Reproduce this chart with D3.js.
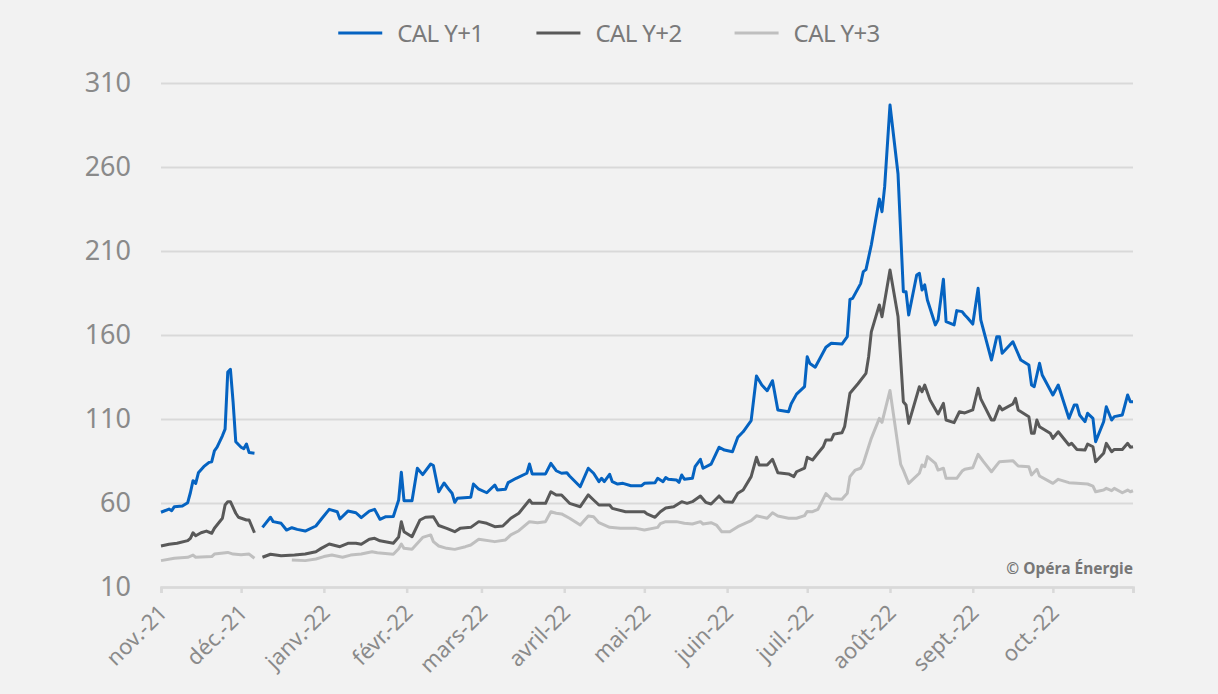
<!DOCTYPE html>
<html>
<head>
<meta charset="utf-8">
<script src="https://cdn.jsdelivr.net/npm/d3@7"></script>
<style>
  body { margin: 0; background: #f2f2f2; }
  svg { display: block; font-family: "Noto Sans", sans-serif; }
</style>
</head>
<body>
<svg id="chart" width="1218" height="694"></svg>
<script>
// series names and colours (legend order)
const seriesNames = ["CAL Y+1", "CAL Y+2", "CAL Y+3"];
const seriesColors = ["#0563c1", "#595959", "#bfbfbf"];

// month tick labels
const monthLabels = ["nov.-21", "déc.-21", "janv.-22", "févr.-22", "mars-22", "avril-22",
  "mai-22", "juin-22", "juil.-22", "août-22", "sept.-22", "oct.-22"];
const yTicks = [10, 60, 110, 160, 210, 260, 310];

// CAL Y+1 (€/MWh), null = gap
const cal1 = [
  ["2021-11-01",54.5],["2021-11-04",56.4],["2021-11-05",55.4],["2021-11-06",57.8],["2021-11-09",58.2],
  ["2021-11-11",60.2],["2021-11-12",66.1],["2021-11-13",73.3],["2021-11-14",71.7],["2021-11-15",78],
  ["2021-11-17",81.6],["2021-11-19",84.2],["2021-11-20",84.6],["2021-11-21",91],["2021-11-22",93.2],
  ["2021-11-24",100],["2021-11-25",104],["2021-11-26",138],["2021-11-27",139.6],["2021-11-28",120],
  ["2021-11-29",96.5],["2021-12-01",93.2],["2021-12-02",92.3],["2021-12-03",95.1],["2021-12-04",90],
  ["2021-12-06",89.6],["2021-12-07",null],
  ["2021-12-09",45.5],["2021-12-12",51.5],["2021-12-13",48.9],["2021-12-16",47.9],["2021-12-18",43.9],
  ["2021-12-20",45.3],["2021-12-22",44.3],["2021-12-25",43.3],["2021-12-29",46.3],["2021-12-31",50.3],
  ["2022-01-03",56.2],["2022-01-06",54.8],["2022-01-07",50.5],["2022-01-10",55.2],["2022-01-13",54.2],
  ["2022-01-15",51.3],["2022-01-18",55.2],["2022-01-20",56.2],["2022-01-22",50.3],["2022-01-24",51.8],
  ["2022-01-27",52],["2022-01-29",61.8],["2022-01-30",78.3],["2022-01-31",61.4],["2022-02-03",61.4],
  ["2022-02-05",80.7],["2022-02-07",76.9],["2022-02-10",83.2],["2022-02-11",82.3],["2022-02-13",66.7],
  ["2022-02-15",71.9],["2022-02-17",67.7],["2022-02-18",65.8],["2022-02-19",60.4],["2022-02-20",62.8],
  ["2022-02-25",63.4],["2022-02-26",71.3],["2022-02-28",68.2],["2022-03-03",66.1],["2022-03-06",70.7],
  ["2022-03-07",67.7],["2022-03-10",68.2],["2022-03-11",72.1],["2022-03-14",74.7],["2022-03-18",77.7],
  ["2022-03-19",83.2],["2022-03-20",77.3],["2022-03-25",77.3],["2022-03-27",83.6],["2022-03-29",79.2],
  ["2022-03-31",77.7],["2022-04-02",78],["2022-04-03",76.1],["2022-04-07",69.7],["2022-04-10",80.7],
  ["2022-04-12",77.7],["2022-04-14",72.7],["2022-04-15",74.7],["2022-04-16",72.7],["2022-04-18",77.1],
  ["2022-04-19",72.7],["2022-04-21",71.3],["2022-04-23",71.7],["2022-04-26",70.3],["2022-04-30",70.3],
  ["2022-05-01",71.7],["2022-05-05",72.1],["2022-05-06",74.7],["2022-05-08",72.7],["2022-05-09",75.1],
  ["2022-05-10",74.1],["2022-05-13",73.7],["2022-05-14",72.3],["2022-05-15",76.7],["2022-05-16",74.1],
  ["2022-05-19",74.7],["2022-05-20",81.6],["2022-05-22",86],["2022-05-23",80.7],["2022-05-26",83.1],
  ["2022-05-29",93.2],["2022-05-31",91.5],["2022-06-03",90.5],["2022-06-05",99.1],["2022-06-07",102.4],
  ["2022-06-10",109],["2022-06-12",135.6],["2022-06-14",130.2],["2022-06-16",126.8],["2022-06-18",132.8],
  ["2022-06-20",115.4],["2022-06-24",114.3],["2022-06-25",119.1],["2022-06-27",124.8],["2022-06-30",129.3],
  ["2022-07-01",147.1],["2022-07-02",143],["2022-07-04",140.8],["2022-07-08",152.7],["2022-07-10",155.1],
  ["2022-07-14",154.6],["2022-07-16",159],["2022-07-17",181.2],["2022-07-18",181.8],["2022-07-21",190.6],
  ["2022-07-22",197.7],["2022-07-23",198.9],["2022-07-25",213.6],["2022-07-28",241],["2022-07-29",233.4],
  ["2022-07-30",248.3],["2022-08-01",296.9],["2022-08-04",256],["2022-08-06",185.8],["2022-08-07",185.8],
  ["2022-08-08",171.9],["2022-08-11",195.7],["2022-08-12",196.7],["2022-08-13",186.8],["2022-08-14",189.8],
  ["2022-08-15",180.8],["2022-08-18",166],["2022-08-19",169],["2022-08-21",193.2],["2022-08-22",167.9],
  ["2022-08-25",166],["2022-08-26",174.5],["2022-08-28",173.9],["2022-08-29",171.9],["2022-08-30",170.3],
  ["2022-09-01",166.5],["2022-09-03",187.8],["2022-09-04",169],["2022-09-08",145.1],["2022-09-10",159],
  ["2022-09-11",159],["2022-09-12",149.1],["2022-09-16",156],["2022-09-19",145.1],["2022-09-22",142.1],
  ["2022-09-23",130.2],["2022-09-24",129.2],["2022-09-26",143.2],["2022-09-27",136.2],["2022-10-01",124.3],
  ["2022-10-03",130.2],["2022-10-07",110.4],["2022-10-09",118.3],["2022-10-10",118.3],["2022-10-11",112.4],
  ["2022-10-13",108.4],["2022-10-14",113.4],["2022-10-16",110.4],["2022-10-17",96.5],["2022-10-20",108.4],
  ["2022-10-21",117.3],["2022-10-23",109.4],["2022-10-24",111.4],["2022-10-27",112.4],["2022-10-29",124.3],
  ["2022-10-30",120.3],["2022-10-31",120.3]
];

// CAL Y+2
const cal2 = [
  ["2021-11-01",34.4],["2021-11-04",35.4],["2021-11-07",36],["2021-11-11",37.6],["2021-11-12",39],
  ["2021-11-13",42.3],["2021-11-14",40.5],["2021-11-16",42.3],["2021-11-18",43.3],["2021-11-20",42],
  ["2021-11-21",45],["2021-11-24",50.9],["2021-11-25",58.8],["2021-11-26",60.8],["2021-11-27",60.8],
  ["2021-11-29",53.9],["2021-11-30",51.5],["2021-12-03",49.9],["2021-12-04",49.9],["2021-12-06",42.3],
  ["2021-12-07",null],
  ["2021-12-09",27.7],["2021-12-12",29.5],["2021-12-16",28.6],["2021-12-21",29],["2021-12-25",29.6],
  ["2021-12-29",31],["2021-12-31",33],["2022-01-03",35.6],["2022-01-07",34],["2022-01-10",36],
  ["2022-01-13",36],["2022-01-15",35.4],["2022-01-18",38.4],["2022-01-20",39],["2022-01-22",37.5],
  ["2022-01-27",36],["2022-01-29",39.8],["2022-01-30",48.9],["2022-01-31",42.9],["2022-02-03",39.9],
  ["2022-02-06",49.9],["2022-02-08",51.5],["2022-02-11",51.8],["2022-02-13",46.6],["2022-02-16",44.9],
  ["2022-02-19",42.9],["2022-02-21",44.9],["2022-02-25",45.5],["2022-02-28",48.9],["2022-03-03",47.9],
  ["2022-03-06",45.9],["2022-03-09",46.3],["2022-03-12",50.9],["2022-03-15",53.9],["2022-03-19",61.8],
  ["2022-03-20",59.8],["2022-03-25",59.8],["2022-03-27",66.7],["2022-03-29",64.8],["2022-03-31",64.8],
  ["2022-04-03",59.8],["2022-04-07",57.8],["2022-04-10",64.8],["2022-04-12",61.8],["2022-04-14",58.8],
  ["2022-04-18",58.8],["2022-04-19",56.8],["2022-04-24",54.8],["2022-05-01",54.8],["2022-05-02",53.5],
  ["2022-05-05",51.5],["2022-05-07",54.8],["2022-05-09",57],["2022-05-12",57.8],["2022-05-15",60.8],
  ["2022-05-17",59.8],["2022-05-19",60.8],["2022-05-22",64.2],["2022-05-24",60.4],["2022-05-26",59.4],
  ["2022-05-29",64.2],["2022-05-31",60.8],["2022-06-03",60.4],["2022-06-05",65.8],["2022-06-07",67.7],
  ["2022-06-10",75.7],["2022-06-12",87.2],["2022-06-13",82.6],["2022-06-16",82.6],["2022-06-18",86],
  ["2022-06-20",78],["2022-06-24",77.3],["2022-06-26",75.7],["2022-06-27",78.6],["2022-06-30",80.7],
  ["2022-07-01",87.2],["2022-07-03",85.6],["2022-07-05",89.6],["2022-07-07",93.5],["2022-07-08",97.5],
  ["2022-07-10",97.5],["2022-07-11",101],["2022-07-14",101.8],["2022-07-15",105.4],["2022-07-17",125.3],
  ["2022-07-20",131],["2022-07-23",137.2],["2022-07-24",147.1],["2022-07-25",161.9],["2022-07-28",177.9],
  ["2022-07-29",170.9],["2022-08-01",198.7],["2022-08-04",171],["2022-08-06",120.3],["2022-08-07",118.3],
  ["2022-08-08",107.4],["2022-08-12",129.2],["2022-08-13",126.2],["2022-08-14",130.2],["2022-08-16",121.3],
  ["2022-08-19",113],["2022-08-21",119.3],["2022-08-22",109.4],["2022-08-25",107.8],["2022-08-27",114.3],
  ["2022-08-29",113.6],["2022-09-01",115.4],["2022-09-03",128.3],["2022-09-04",122],["2022-09-08",109.4],
  ["2022-09-09",109.4],["2022-09-11",117.7],["2022-09-12",115.4],["2022-09-16",118.9],["2022-09-17",122.3],
  ["2022-09-18",115.4],["2022-09-22",111.4],["2022-09-23",101.5],["2022-09-24",101.5],["2022-09-25",109.4],
  ["2022-09-26",105.4],["2022-09-30",101.5],["2022-10-01",98.5],["2022-10-03",102.4],["2022-10-07",94.5],
  ["2022-10-08",95.5],["2022-10-10",91.9],["2022-10-13",91.5],["2022-10-14",95.1],["2022-10-16",93.5],
  ["2022-10-17",84.6],["2022-10-20",89.6],["2022-10-21",95.5],["2022-10-23",90.5],["2022-10-24",91.9],
  ["2022-10-27",91.9],["2022-10-29",95.5],["2022-10-30",93.2],["2022-10-31",93.5]
];

// CAL Y+3
const cal3 = [
  ["2021-11-01",25.7],["2021-11-06",27.1],["2021-11-11",27.7],["2021-11-13",29],["2021-11-14",27.7],
  ["2021-11-20",28.1],["2021-11-21",29.6],["2021-11-26",30.6],["2021-11-28",29.6],["2021-12-01",29.2],
  ["2021-12-04",29.6],["2021-12-06",27.1],["2021-12-07",null],
  ["2021-12-20",26.1],["2021-12-25",25.7],["2021-12-29",26.7],["2022-01-01",28.1],["2022-01-04",29],
  ["2022-01-08",27.7],["2022-01-11",29],["2022-01-15",29.6],["2022-01-19",31],["2022-01-21",30.4],
  ["2022-01-27",29.5],["2022-01-29",32.8],["2022-01-30",35.6],["2022-01-31",33],["2022-02-03",32.5],
  ["2022-02-07",39.5],["2022-02-10",41],["2022-02-11",37],["2022-02-13",34.4],["2022-02-16",33],
  ["2022-02-19",32.4],["2022-02-23",34],["2022-02-25",35],["2022-02-28",38.4],["2022-03-06",37],
  ["2022-03-10",38],["2022-03-12",41],["2022-03-15",43.5],["2022-03-19",48.9],["2022-03-22",48.3],
  ["2022-03-25",48.9],["2022-03-27",54.8],["2022-03-29",53.9],["2022-03-31",53.5],["2022-04-03",50.9],
  ["2022-04-07",46.9],["2022-04-10",52.3],["2022-04-12",51.8],["2022-04-14",48.3],["2022-04-18",45.5],
  ["2022-04-22",44.9],["2022-04-28",44.9],["2022-05-01",43.9],["2022-05-06",45.5],["2022-05-07",47.7],
  ["2022-05-09",48.9],["2022-05-13",48.9],["2022-05-16",47.9],["2022-05-19",47.5],["2022-05-22",48.9],
  ["2022-05-23",47.5],["2022-05-26",48.3],["2022-05-28",46.9],["2022-05-30",42.9],["2022-06-02",42.9],
  ["2022-06-05",45.9],["2022-06-10",49.5],["2022-06-12",52.4],["2022-06-16",50.9],["2022-06-18",54.2],
  ["2022-06-20",52.3],["2022-06-24",50.9],["2022-06-27",50.9],["2022-06-30",52.5],["2022-07-01",55],
  ["2022-07-03",54.8],["2022-07-05",56.2],["2022-07-08",65.6],["2022-07-10",62.5],["2022-07-14",62.2],
  ["2022-07-16",65.8],["2022-07-17",75.7],["2022-07-19",79.6],["2022-07-21",80.7],["2022-07-22",83.6],
  ["2022-07-23",88.6],["2022-07-25",98.5],["2022-07-28",110.4],["2022-07-29",108],["2022-08-01",127],
  ["2022-08-04",94],["2022-08-05",83],["2022-08-06",79.6],["2022-08-08",71.7],["2022-08-12",77.7],
  ["2022-08-13",82.6],["2022-08-14",81.6],["2022-08-15",87.6],["2022-08-18",83.6],["2022-08-19",79.6],
  ["2022-08-21",80.7],["2022-08-22",74.7],["2022-08-26",74.7],["2022-08-28",79],["2022-08-29",80.1],
  ["2022-09-01",81],["2022-09-03",89],["2022-09-05",84.6],["2022-09-08",78.6],["2022-09-11",84.6],
  ["2022-09-16",85.2],["2022-09-18",82],["2022-09-22",81.6],["2022-09-23",76.7],["2022-09-25",80.1],
  ["2022-09-26",76.1],["2022-10-01",71.7],["2022-10-03",74.1],["2022-10-07",72.1],["2022-10-10",71.7],
  ["2022-10-14",71.3],["2022-10-16",70.1],["2022-10-17",66.7],["2022-10-20",67.7],["2022-10-21",68.7],
  ["2022-10-23",67.3],["2022-10-24",68.7],["2022-10-27",66.1],["2022-10-29",67.7],["2022-10-30",66.7],
  ["2022-10-31",67.3]
];

const parse = d3.timeParse("%Y-%m-%d");
const svg = d3.select("#chart");

svg.append("rect").attr("width", 1218).attr("height", 694).attr("fill", "#f2f2f2");

const x = d3.scaleTime()
  .domain([parse("2021-11-01"), parse("2022-10-31")])
  .range([161, 1133]);
const y = d3.scaleLinear().domain([10, 310]).range([587, 83]);

// y axis with gridlines
const yAxis = d3.axisLeft(y)
  .tickValues(yTicks)
  .tickSize(-(x.range()[1] - x.range()[0]))
  .tickPadding(30);
const yG = svg.append("g").attr("transform", `translate(${x.range()[0]},0)`).call(yAxis);
yG.select(".domain").remove();
yG.selectAll(".tick line").attr("stroke", "#d9d9d9").attr("stroke-width", 2);
yG.selectAll(".tick text")
  .attr("fill", "#8a8a8a")
  .style("font-size", "27px")
  .style("font-family", "Noto Sans, sans-serif");

// x axis
const monthTicks = d3.timeMonth.range(parse("2021-11-01"), parse("2022-11-01"));
const xAxis = d3.axisBottom(x)
  .tickValues(monthTicks.concat([parse("2022-10-31")]))
  .tickSize(6)
  .tickFormat((d, i) => monthLabels[i] || "");
const xG = svg.append("g").attr("transform", "translate(0,587)").call(xAxis);
xG.select(".domain").attr("stroke", "#d9d9d9").attr("stroke-width", 2.5);
xG.selectAll(".tick line").attr("stroke", "#d9d9d9").attr("stroke-width", 2.5);
xG.selectAll(".tick text")
  .attr("x", 0).attr("y", 0).attr("dy", 0)
  .attr("text-anchor", "end")
  .attr("transform", "translate(7,27) rotate(-45)")
  .attr("fill", "#8a8a8a")
  .style("font-size", "22px")
  .style("font-family", "Noto Sans, sans-serif");

// lines
const line = d3.line()
  .defined(d => d[1] != null)
  .x(d => x(parse(d[0])))
  .y(d => y(d[1]));

const seriesData = [cal1, cal2, cal3];
[2, 1, 0].forEach(i => {
  svg.append("path")
    .datum(seriesData[i])
    .attr("fill", "none")
    .attr("stroke", seriesColors[i])
    .attr("stroke-width", 3)
    .attr("stroke-linejoin", "round")
    .attr("d", line);
});

// legend, centred
const legend = svg.append("g");
let lx = 0;
seriesNames.forEach((name, i) => {
  const g = legend.append("g").attr("transform", `translate(${lx},0)`);
  g.append("line").attr("x1", 0).attr("x2", 44).attr("y1", 33).attr("y2", 33)
    .attr("stroke", seriesColors[i]).attr("stroke-width", 3);
  const t = g.append("text").attr("x", 59).attr("y", 42)
    .attr("fill", "#7a7a7a")
    .style("font-size", "24px")
    .style("letter-spacing", "-0.6px")
    .text(name);
  lx += 59 + t.node().getComputedTextLength() + 53;
});
const legW = lx - 53;
legend.attr("transform", `translate(${609 - legW / 2},0)`);

// source
svg.append("text")
  .attr("x", 1133).attr("y", 574)
  .attr("text-anchor", "end")
  .attr("fill", "#777")
  .style("font-size", "15.5px")
  .style("font-weight", "bold")
  .text("© Opéra Énergie");
</script>
</body>
</html>
